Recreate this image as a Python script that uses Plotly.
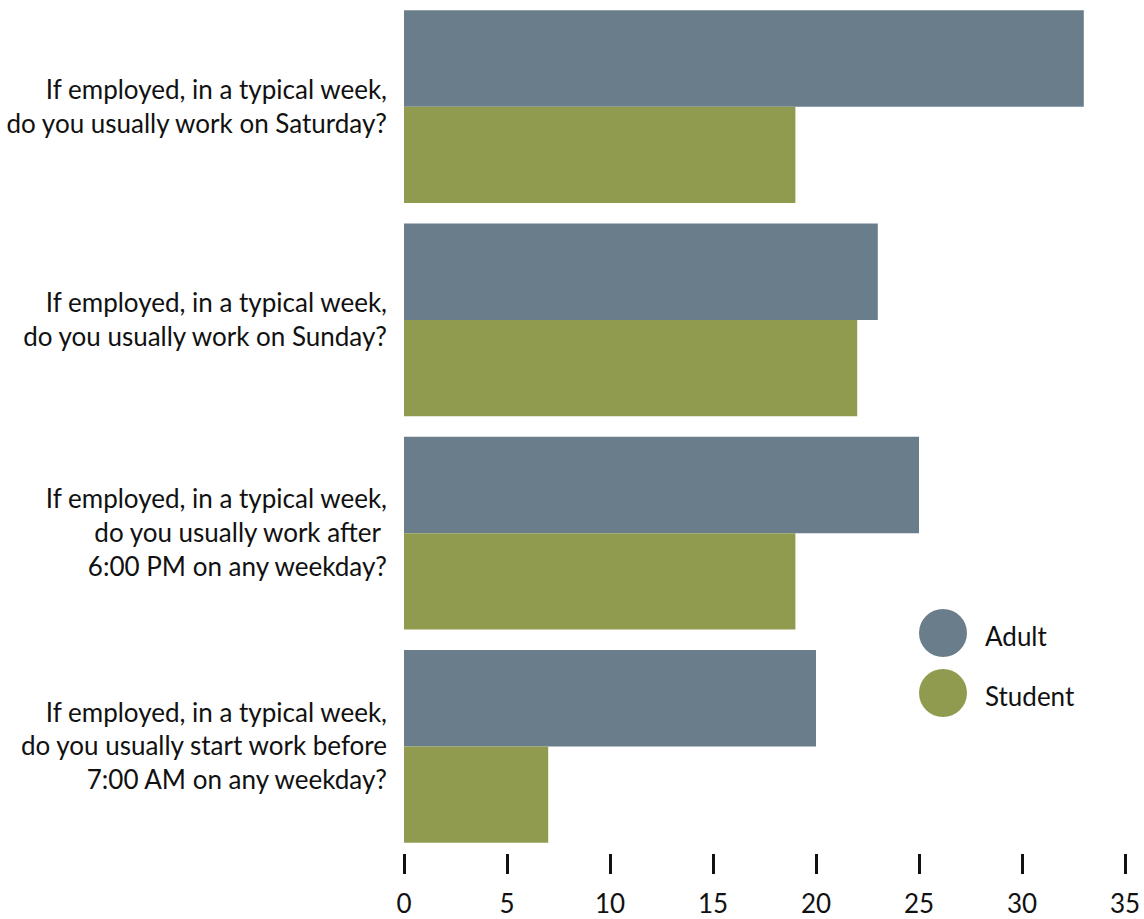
import plotly.graph_objects as go

# Survey questions (top to bottom) and percentage answering yes
questions = [
    "If employed, in a typical week,<br>do you usually work on Saturday?",
    "If employed, in a typical week,<br>do you usually work on Sunday?",
    "If employed, in a typical week,<br>do you usually work after <br>6:00 PM on any weekday?",
    "If employed, in a typical week,<br>do you usually start work before<br>7:00 AM on any weekday?",
]
adult = [33, 23, 25, 20]
student = [19, 22, 19, 7]
x_ticks = [0, 5, 10, 15, 20, 25, 30, 35]

ADULT_COLOR = "#6A7D8B"
STUDENT_COLOR = "#919B4F"
FONT = "Lato"

fig = go.Figure()
fig.add_trace(go.Bar(name="Adult", y=questions, x=adult, orientation="h",
                     marker=dict(color=ADULT_COLOR, line=dict(width=0))))
fig.add_trace(go.Bar(name="Student", y=questions, x=student, orientation="h",
                     marker=dict(color=STUDENT_COLOR, line=dict(width=0))))

W, H = 1144, 919
ml, mr, mt, mb = 404, 19, 0, 66
pw, ph = W - ml - mr, H - mt - mb

# Hand-drawn legend: large circular swatches with labels
legend_items = [("Adult", ADULT_COLOR, 633), ("Student", STUDENT_COLOR, 693)]
shapes, annotations = [], []
cx, r = 943, 24
for label, color, cy in legend_items:
    shapes.append(dict(
        type="circle", xref="paper", yref="paper",
        x0=(cx - r - ml) / pw, x1=(cx + r - ml) / pw,
        y0=(H - mb - (cy + r)) / ph, y1=(H - mb - (cy - r)) / ph,
        fillcolor=color, line=dict(width=0),
    ))
    annotations.append(dict(
        text=label, xref="paper", yref="paper", showarrow=False,
        x=(983 - ml) / pw, y=(H - mb - (cy + 3)) / ph, xanchor="left", yanchor="middle",
        font=dict(family=FONT, size=26, color="#111111"),
    ))

fig.update_layout(
    width=W, height=H,
    margin=dict(l=ml, r=mr, t=mt, b=mb, pad=0),
    barmode="group", bargap=0.095, bargroupgap=0,
    plot_bgcolor="white", paper_bgcolor="white",
    showlegend=False,
    font=dict(family=FONT, size=26, color="#111111"),
    shapes=shapes, annotations=annotations,
)
fig.update_xaxes(
    range=[0, 35], tickvals=x_ticks, ticktext=[str(v) for v in x_ticks],
    showgrid=False, zeroline=False, showline=False,
    ticks="outside", ticklen=20, tickwidth=2.5, tickcolor="#111111",
    tickfont=dict(family=FONT, size=26, color="#111111"),
    ticklabelstandoff=8,
)
fig.update_yaxes(
    autorange="reversed", showgrid=False, zeroline=False, showline=False,
    ticks="", ticklabelstandoff=16,
    tickfont=dict(family=FONT, size=26, color="#111111"),
)

fig.write_html("out.html")
